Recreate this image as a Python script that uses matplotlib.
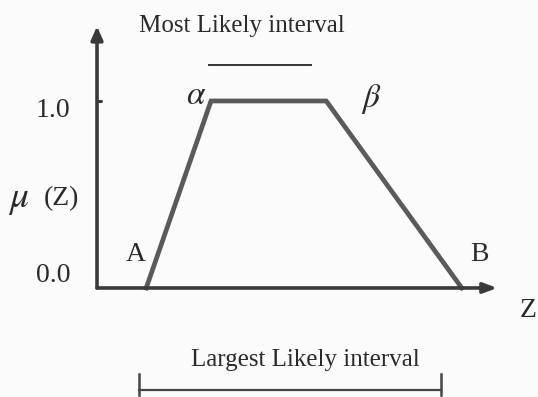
import matplotlib.pyplot as plt

# Trapezoidal membership function: A, alpha, beta, B
z_points = [0.82, 1.9, 3.82, 6.08]
mu_points = [0.0, 1.0, 1.0, 0.0]
point_labels = ['A', r'$\alpha$', r'$\beta$', 'B']

# interval bars (Z units)
most_likely = [1.87, 3.57]
largest_likely = [0.70, 5.73]

plt.rcParams['font.family'] = ['Liberation Serif', 'DejaVu Serif']
plt.rcParams['mathtext.fontset'] = 'stix'

fig = plt.figure(figsize=(5.38, 3.97), dpi=100)
fig.patch.set_facecolor('#fbfbfb')
ax = fig.add_axes([0, 0, 1, 1])
ax.set_xlim(-1.617, 7.35)
ax.set_ylim(-0.583, 1.540)
ax.axis('off')

axis_col = '#3a3a3a'
line_col = '#5a5a5a'
text_col = '#2a2a2a'

# axes with arrows
ax.annotate('', xy=(0, 1.40), xytext=(0, 0),
            arrowprops=dict(arrowstyle='-|>,head_width=0.35,head_length=0.8',
                            color=axis_col, lw=2.6, shrinkA=0, shrinkB=0))
ax.annotate('', xy=(6.67, 0), xytext=(0, 0),
            arrowprops=dict(arrowstyle='-|>,head_width=0.3,head_length=0.8',
                            color=axis_col, lw=2.6, shrinkA=0, shrinkB=0))
ax.plot([0, 0.06], [1.0, 1.0], color=axis_col, lw=2.2, solid_capstyle='round')

# trapezoid
ax.plot(z_points, mu_points, color=line_col, lw=3.4, solid_joinstyle='miter')

# tick labels
ax.text(-0.73, 0.95, '1.0', fontsize=20, ha='center', va='center', color=text_col)
ax.text(-0.73, 0.065, '0.0', fontsize=20, ha='center', va='center', color=text_col)
ax.text(-1.3, 0.47, r'$\mu$', fontsize=27, ha='center', va='center', color=text_col)
ax.text(-0.6, 0.48, '(Z)', fontsize=20, ha='center', va='center', color=text_col)

# point labels
ax.text(0.65, 0.18, point_labels[0], fontsize=20, ha='center', va='center', color=text_col)
ax.text(1.65, 1.03, point_labels[1], fontsize=24, ha='center', va='center', color=text_col)
ax.text(4.57, 1.01, point_labels[2], fontsize=24, ha='center', va='center', color=text_col)
ax.text(6.38, 0.18, point_labels[3], fontsize=20, ha='center', va='center', color=text_col)
ax.text(7.18, -0.123, 'Z', fontsize=20, ha='center', va='center', color=text_col)

# most likely interval
ax.text(2.42, 1.40, 'Most Likely interval', fontsize=18, ha='center', va='center', color=text_col)
ax.plot(most_likely, [1.19, 1.19], color='#333', lw=1.4)

# largest likely interval
ax.text(3.48, -0.385, 'Largest Likely interval', fontsize=18, ha='center', va='center', color=text_col)
ax.plot(largest_likely, [-0.545, -0.545], color='#444', lw=1.6)
for z in largest_likely:
    ax.plot([z, z], [-0.46, -0.572], color='#444', lw=1.8)

fig.savefig('out.png', dpi=100, facecolor=fig.get_facecolor())
